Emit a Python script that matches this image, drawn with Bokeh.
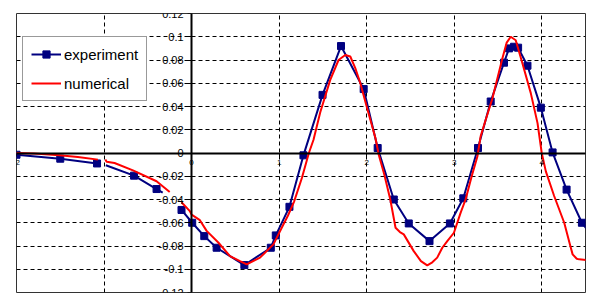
import numpy as np
from bokeh.plotting import figure
from bokeh.models import Range1d, FixedTicker, Legend, LegendItem, CustomJSTickFormatter
from bokeh.embed import file_html
from bokeh.resources import INLINE

# ---------------- data ----------------
# experiment: three measured segments (None = gap); marked = square marker drawn
exp_x = [-2.0, -1.50, -1.08, None,
         -0.98, -0.657, -0.40, -0.33, None,
         -0.115, 0.007, 0.145, 0.286, 0.603, 0.905, 0.962, 1.118, 1.278, 1.496,
         1.707, 1.966, 2.126, 2.31, 2.481, 2.718, 2.951, 3.104, 3.272, 3.417,
         3.569, 3.627, 3.684, 3.730, 3.837, 3.99, 4.124, 4.284, 4.459, 4.56]
exp_y = [-0.0015, -0.0049, -0.009, None,
         -0.0105, -0.0195, -0.031, -0.034, None,
         -0.049, -0.060, -0.0715, -0.0815, -0.0964, -0.0815, -0.0709, -0.0463, -0.002, 0.050,
         0.092, 0.055, 0.0043, -0.040, -0.0606, -0.0758, -0.0606, -0.039, 0.0043, 0.0443,
         0.0777, 0.090, 0.0914, 0.0906, 0.0751, 0.039, 0.0005, -0.0315, -0.060, -0.070]
exp_marked = [1, 1, 1, 0,
              0, 1, 1, 0, 0,
              1, 1, 1, 1, 1, 1, 1, 1, 1, 1,
              1, 1, 1, 1, 1, 1, 1, 1, 1, 1,
              1, 1, 1, 1, 1, 1, 1, 1, 1, 0]

# numerical simulation
num_x = [-2.0, -1.8, -1.51, -1.3, -1.07, None,
         -0.985, -0.97, -0.88, -0.67, -0.40, -0.25, None,
         -0.115, -0.02, 0.0, 0.095, 0.172, 0.305, 0.439, 0.553, 0.63, 0.782, 0.935,
         1.03, 1.10, 1.17, 1.26, 1.34, 1.393, 1.47, 1.584, 1.679, 1.756, 1.813, 1.87,
         1.928, 2.0, 2.10, 2.138, 2.2, 2.27, 2.33, 2.38, 2.424, 2.538, 2.62, 2.692,
         2.75, 2.806, 2.864, 2.921, 2.997, 3.073, 3.13, 3.2, 3.265, 3.302, 3.36,
         3.437, 3.551, 3.60, 3.646, 3.703, 3.78, 3.875, 3.952, 4.0, 4.047, 4.142,
         4.257, 4.32, 4.353, 4.40, 4.428, 4.56]
num_y = [0.0, -0.0005, -0.002, -0.0035, -0.0057, None,
         -0.0055, -0.0075, -0.0086, -0.0149, -0.0243, -0.0335, None,
         -0.0424, -0.050, -0.053, -0.0578, -0.067, -0.077, -0.0887, -0.093, -0.0958, -0.090, -0.0786,
         -0.0643, -0.054, -0.042, -0.0215, 0.0, 0.0114, 0.035, 0.0629, 0.080, 0.0843, 0.083, 0.073,
         0.060, 0.040, 0.0129, -0.0015, -0.018, -0.040, -0.0643, -0.068, -0.070, -0.0844, -0.093, -0.0967,
         -0.094, -0.090, -0.0815, -0.0758, -0.0686, -0.0515, -0.040, -0.020, -0.003, 0.0143, 0.0286,
         0.047, 0.0815, 0.095, 0.100, 0.097, 0.077, 0.0515, 0.0257, 0.0, -0.0158, -0.037,
         -0.060, -0.078, -0.0872, -0.091, -0.0915, -0.0925]

x_ticks = [-2, 0, 1, 2, 3, 4]
x_tick_labels = ["-2", "0", "1", "2", "3", "4"]
x_grid = [-1, 1, 2, 3, 4]
y_ticks = [-0.12, -0.1, -0.08, -0.06, -0.04, -0.02, 0, 0.02, 0.04, 0.06, 0.08, 0.1, 0.12]
y_tick_labels = ["-0.12", "-0.1", "-0.08", "-0.06", "-0.04", "-0.02", "0",
                 "0.02", "0.04", "0.06", "0.08", "0.1", "0.12"]

def arr(v):
    return np.array([np.nan if a is None else a for a in v], dtype=float)

ex, ey = arr(exp_x), arr(exp_y)
mask = np.array(exp_marked, dtype=bool)
nx, ny = arr(num_x), arr(num_y)

FONT = "Liberation Sans"
LOOKUP = """
const i = tvals.findIndex(t => Math.abs(t - tick) < 1e-9);
return i >= 0 ? tlabels[i] : "";
"""

p = figure(width=600, height=302, output_backend="svg", toolbar_location=None,
           x_range=Range1d(-2, 4.5), y_range=Range1d(-0.12, 0.12),
           min_border_left=16, min_border_right=15, min_border_top=13, min_border_bottom=10)
p.background_fill_color = "white"
p.border_fill_color = "white"
p.outline_line_color = "#333333"
p.outline_line_width = 1

# axes crossing at zero
p.xaxis.fixed_location = 0
p.xaxis.ticker = FixedTicker(ticks=x_ticks)
p.xaxis.formatter = CustomJSTickFormatter(args=dict(tvals=x_ticks, tlabels=x_tick_labels), code=LOOKUP)
p.xaxis.major_label_text_font_size = "8px"
p.xaxis.major_label_text_color = "black"
p.xaxis.major_tick_out = 3
p.xaxis.major_tick_in = 0
p.xaxis.minor_tick_out = 0
p.xaxis.minor_tick_in = 0
p.xaxis.major_label_standoff = 4
p.xaxis.axis_line_width = 2
p.xaxis.axis_line_color = "black"
p.xaxis.major_tick_line_color = "black"

p.yaxis.fixed_location = 0
p.yaxis.ticker = FixedTicker(ticks=y_ticks)
p.yaxis.formatter = CustomJSTickFormatter(args=dict(tvals=y_ticks, tlabels=y_tick_labels), code=LOOKUP)
p.yaxis.major_label_text_font_size = "11px"
p.yaxis.major_label_text_color = "black"
p.yaxis.major_tick_out = 4
p.yaxis.major_tick_in = 0
p.yaxis.minor_tick_out = 0
p.yaxis.minor_tick_in = 0
p.yaxis.major_label_standoff = 4
p.yaxis.axis_line_width = 2
p.yaxis.axis_line_color = "black"
p.yaxis.major_tick_line_color = "black"

p.xgrid.ticker = FixedTicker(ticks=x_grid)
p.ygrid.ticker = FixedTicker(ticks=y_ticks)
p.grid.grid_line_color = "black"
p.grid.grid_line_dash = "4 3"
p.grid.grid_line_width = 1

BLUE = "#000080"
RED = "#FF0000"

l_exp = p.line(ex, ey, line_color=BLUE, line_width=2)
m_exp = p.scatter(ex[mask], ey[mask], marker="square", size=7,
                  fill_color=BLUE, line_color=BLUE)
l_num = p.line(nx, ny, line_color=RED, line_width=2)

legend = Legend(items=[LegendItem(label="experiment", renderers=[l_exp, m_exp]),
                       LegendItem(label="numerical", renderers=[l_num])],
                location=(6, 191))
legend.label_text_font = FONT
legend.label_text_font_size = "15px"
legend.label_text_color = "black"
legend.border_line_color = "#333333"
legend.border_line_width = 1
legend.background_fill_color = "white"
legend.background_fill_alpha = 1
legend.padding = 8
legend.spacing = 11
legend.margin = 0
legend.glyph_width = 30
legend.glyph_height = 18
legend.label_height = 18
legend.label_standoff = 3
p.add_layout(legend)

open("out.html", "w").write(file_html(p, INLINE))
